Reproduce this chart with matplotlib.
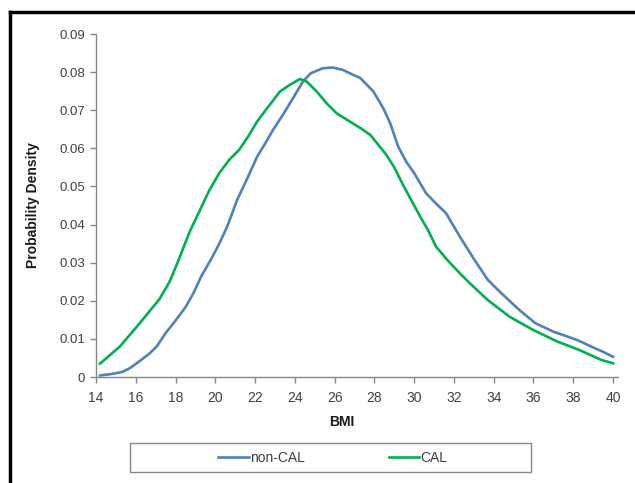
import matplotlib
matplotlib.use('Agg')
import matplotlib.pyplot as plt
from matplotlib.lines import Line2D
from matplotlib.patches import Rectangle

plt.rcParams['font.family'] = ['Liberation Sans', 'DejaVu Sans']

# non-CAL curve (blue)
bmi_noncal = [14.2, 14.8, 15.3, 15.7, 16.2, 16.7, 17.05, 17.5, 18.0, 18.5, 18.9,
              19.3, 19.8, 20.2, 20.6, 21.1, 21.6, 22.1, 22.5, 22.9, 23.4, 23.9,
              24.4, 24.8, 25.4, 25.9, 26.4, 27.3, 27.95, 28.45, 28.8, 29.2, 29.6,
              30.0, 30.6, 31.1, 31.6, 32.3, 33.0, 33.7, 34.3, 35.2, 35.7, 36.1,
              37.0, 38.2, 38.9, 39.5, 40.0]
dens_noncal = [0.0004, 0.0008, 0.0013, 0.0023, 0.0042, 0.0062, 0.0080, 0.0115,
               0.0148, 0.0183, 0.0220, 0.0265, 0.0310, 0.0350, 0.0395, 0.0465,
               0.0520, 0.0578, 0.0612, 0.0648, 0.0688, 0.0731, 0.0775, 0.0797,
               0.0810, 0.0812, 0.0806, 0.0784, 0.0749, 0.0705, 0.0665, 0.0604,
               0.0565, 0.0535, 0.0482, 0.0455, 0.0430, 0.0368, 0.0310, 0.0255,
               0.0224, 0.0180, 0.0158, 0.0141, 0.0119, 0.0097, 0.0080, 0.0066,
               0.0053]

# CAL curve (green)
bmi_cal = [14.2, 15.2, 16.1, 17.2, 17.7, 18.1, 18.7, 19.2, 19.7, 20.2, 20.7,
           21.2, 21.7, 22.1, 22.6, 23.25, 23.7, 24.26, 24.6, 25.1, 25.6, 26.1,
           26.9, 27.3, 27.8, 28.6, 29.0, 29.4, 30.3, 30.7, 31.1, 31.7, 32.3,
           32.8, 33.7, 34.8, 36.0, 37.2, 38.3, 39.4, 40.0]
dens_cal = [0.0035, 0.0080, 0.0135, 0.0205, 0.0250, 0.0300, 0.0380, 0.0435,
            0.0490, 0.0535, 0.0570, 0.0596, 0.0635, 0.0670, 0.0705, 0.0749,
            0.0765, 0.0782, 0.0775, 0.0749, 0.0718, 0.0692, 0.0666, 0.0653,
            0.0635, 0.0583, 0.0550, 0.0508, 0.0421, 0.0385, 0.0342, 0.0305,
            0.0272, 0.0246, 0.0202, 0.0158, 0.0123, 0.0093, 0.0071, 0.0045,
            0.0036]

xticks = list(range(14, 41, 2))
yticks = [0, 0.01, 0.02, 0.03, 0.04, 0.05, 0.06, 0.07, 0.08, 0.09]
ytick_labels = ['0', '0.01', '0.02', '0.03', '0.04', '0.05', '0.06', '0.07', '0.08', '0.09']

W, H = 635, 483
fig = plt.figure(figsize=(W / 100, H / 100), dpi=100)
ax = fig.add_axes([96 / W, 1 - 377 / H, 522 / W, 343 / H])

ax.plot(bmi_noncal, dens_noncal, color='#4F81BD', lw=1.9, label='non-CAL',
        solid_joinstyle='round')
ax.plot(bmi_cal, dens_cal, color='#00B050', lw=1.9, label='CAL',
        solid_joinstyle='round')

ax.set_xlim(14, 40.25)
ax.set_ylim(0, 0.09)
ax.set_xticks(xticks)
ax.set_yticks(yticks)
ax.set_yticklabels(ytick_labels)

for s in ['top', 'right']:
    ax.spines[s].set_visible(False)
for s in ['left', 'bottom']:
    ax.spines[s].set_color('#868686')
    ax.spines[s].set_linewidth(1.0)
ax.tick_params(axis='both', colors='#868686', labelcolor='#404040',
               length=4, width=1.0)
ax.tick_params(axis='x', pad=6, labelsize=10)
ax.tick_params(axis='y', pad=4, labelsize=9.5)

fig.text(33 / W, 1 - 205 / H, 'Probability Density', rotation=90,
         ha='center', va='center', fontsize=10, fontweight='bold', color='#1a1a1a')
fig.text(342 / W, 1 - 422 / H, 'BMI', ha='center', va='center',
         fontsize=10, fontweight='bold', color='#1a1a1a')

# legend box
fig.add_artist(Rectangle((130 / W, 1 - 472 / H), 401 / W, 29 / H,
                         transform=fig.transFigure, fill=False,
                         edgecolor='#868686', lw=1.0))
fig.legend(loc='center', bbox_to_anchor=(333 / W, 1 - 457.5 / H), ncol=2,
           frameon=False, fontsize=10, handlelength=2.2, handletextpad=0.1,
           columnspacing=6.0, labelcolor='#404040')

# outer frame (top and left only)
fig.add_artist(Line2D([10 / W, 1], [1 - 12 / H, 1 - 12 / H], color='black',
                      lw=2.5, transform=fig.transFigure))
fig.add_artist(Line2D([10 / W, 10 / W], [0, 1 - 12 / H], color='black',
                      lw=2.5, transform=fig.transFigure))

fig.savefig('out.png', dpi=100)
